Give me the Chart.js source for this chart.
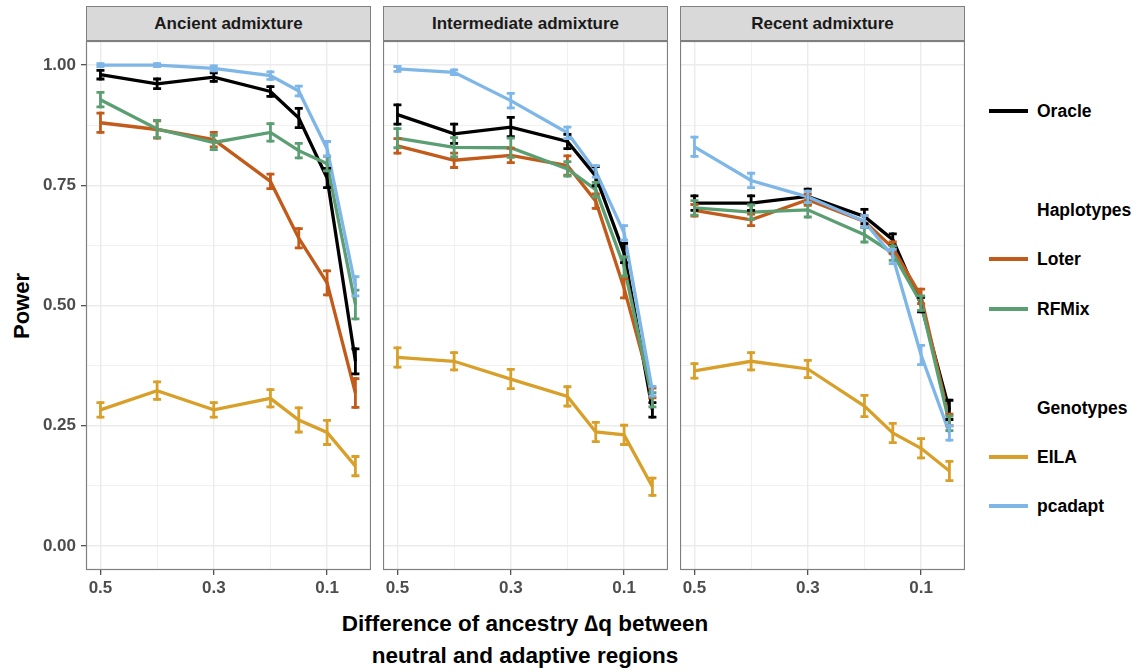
<!DOCTYPE html>
<html><head><meta charset="utf-8">
<script src="https://cdn.jsdelivr.net/npm/chart.js@4.4.0/dist/chart.umd.min.js"></script>
<style>
html,body{margin:0;padding:0;background:#fff;}
#root{position:relative;width:1146px;height:672px;overflow:hidden;font-family:"Liberation Sans",Arial,Helvetica,sans-serif;}
.strip{position:absolute;top:6px;height:35px;width:285px;box-sizing:border-box;background:#d9d9d9;border:1px solid #7f7f7f;
  color:#1a1a1a;font-weight:bold;font-size:17px;text-align:center;line-height:33px;}
canvas{position:absolute;}
.leg-line{position:absolute;left:989px;width:39px;height:3.5px;}
.leg-text{position:absolute;left:1037px;font-weight:bold;font-size:17.5px;color:#000;line-height:20px;white-space:nowrap;}
.title-x{position:absolute;left:0;width:1050px;text-align:center;font-weight:bold;font-size:22.5px;color:#000;white-space:nowrap;}
.title-y{position:absolute;left:22px;top:306px;font-weight:bold;font-size:22px;color:#000;transform:translate(-50%,-50%) rotate(-90deg);white-space:nowrap;}
</style>
</head><body>
<div id="root">
  <div class="title-y">Power</div>
  <div class="title-x" style="top:611px;">Difference of ancestry ∆q between</div>
  <div class="title-x" style="top:643px;">neutral and adaptive regions</div>
</div>
<script>
// ---------- data ----------
const deltaQ = [0.5, 0.4, 0.3, 0.2, 0.15, 0.1, 0.05];
const panelTitles = ["Ancient admixture", "Intermediate admixture", "Recent admixture"];
const methods = ["Oracle", "Loter", "RFMix", "EILA", "pcadapt"];
const methodColors = ["#000000", "#c25a1a", "#5b9e72", "#d8a02a", "#7eb6e8"];
const xMajorTicks = [0.5, 0.3, 0.1];
const xMinorTicks = [0.4, 0.2];
const yMajorTicks = [0, 0.25, 0.5, 0.75, 1];
const yMinorTicks = [0.125, 0.375, 0.625, 0.875];

// Ancient admixture
const oracleAncient  = [0.980, 0.961, 0.975, 0.945, 0.890, 0.765, 0.384];
const loterAncient   = [0.880, 0.866, 0.845, 0.758, 0.640, 0.547, 0.318];
const rfmixAncient   = [0.928, 0.867, 0.839, 0.860, 0.822, 0.795, 0.502];
const eilaAncient    = [0.283, 0.323, 0.283, 0.307, 0.262, 0.236, 0.166];
const pcadaptAncient = [1.000, 1.000, 0.993, 0.978, 0.946, 0.826, 0.540];
const oracleAncientErr  = [0.009, 0.010, 0.009, 0.010, 0.020, 0.020, 0.026];
const loterAncientErr   = [0.020, 0.018, 0.015, 0.015, 0.020, 0.025, 0.030];
const rfmixAncientErr   = [0.015, 0.018, 0.015, 0.018, 0.015, 0.015, 0.030];
const eilaAncientErr    = [0.015, 0.018, 0.015, 0.018, 0.025, 0.025, 0.020];
const pcadaptAncientErr = [0.003, 0.003, 0.005, 0.008, 0.010, 0.015, 0.020];

// Intermediate admixture
const oracleInter  = [0.897, 0.857, 0.871, 0.841, 0.769, 0.609, 0.283];
const loterInter   = [0.832, 0.802, 0.812, 0.791, 0.717, 0.536, 0.318];
const rfmixInter   = [0.848, 0.829, 0.828, 0.784, 0.741, 0.581, 0.304];
const eilaInter    = [0.392, 0.384, 0.347, 0.311, 0.237, 0.231, 0.123];
const pcadaptInter = [0.992, 0.985, 0.926, 0.859, 0.779, 0.651, 0.322];
const oracleInterErr  = [0.020, 0.020, 0.020, 0.015, 0.020, 0.020, 0.015];
const loterInterErr   = [0.015, 0.015, 0.015, 0.020, 0.015, 0.020, 0.010];
const rfmixInterErr   = [0.020, 0.020, 0.020, 0.015, 0.015, 0.020, 0.015];
const eilaInterErr    = [0.020, 0.018, 0.020, 0.020, 0.020, 0.020, 0.018];
const pcadaptInterErr = [0.005, 0.005, 0.015, 0.012, 0.012, 0.015, 0.010];

// Recent admixture
const oracleRecent  = [0.713, 0.713, 0.727, 0.685, 0.637, 0.502, 0.283];
const loterRecent   = [0.698, 0.678, 0.720, 0.675, 0.620, 0.519, 0.262];
const rfmixRecent   = [0.703, 0.694, 0.699, 0.647, 0.609, 0.505, 0.255];
const eilaRecent    = [0.364, 0.384, 0.368, 0.291, 0.235, 0.203, 0.156];
const pcadaptRecent = [0.830, 0.760, 0.726, 0.675, 0.602, 0.397, 0.235];
const oracleRecentErr  = [0.015, 0.015, 0.015, 0.015, 0.012, 0.015, 0.020];
const loterRecentErr   = [0.012, 0.012, 0.012, 0.012, 0.012, 0.015, 0.012];
const rfmixRecentErr   = [0.015, 0.015, 0.015, 0.015, 0.015, 0.015, 0.015];
const eilaRecentErr    = [0.015, 0.018, 0.018, 0.022, 0.020, 0.020, 0.020];
const pcadaptRecentErr = [0.020, 0.015, 0.012, 0.012, 0.015, 0.020, 0.015];

const panelValues = [
  [oracleAncient, loterAncient, rfmixAncient, eilaAncient, pcadaptAncient],
  [oracleInter, loterInter, rfmixInter, eilaInter, pcadaptInter],
  [oracleRecent, loterRecent, rfmixRecent, eilaRecent, pcadaptRecent]
];
const panelErrors = [
  [oracleAncientErr, loterAncientErr, rfmixAncientErr, eilaAncientErr, pcadaptAncientErr],
  [oracleInterErr, loterInterErr, rfmixInterErr, eilaInterErr, pcadaptInterErr],
  [oracleRecentErr, loterRecentErr, rfmixRecentErr, eilaRecentErr, pcadaptRecentErr]
];

// legend layout (method index or header)
const legendRows = [
  {type: "item", m: 0, y: 111},
  {type: "head", text: "Haplotypes", y: 210},
  {type: "item", m: 1, y: 259},
  {type: "item", m: 2, y: 309},
  {type: "head", text: "Genotypes", y: 408},
  {type: "item", m: 3, y: 457},
  {type: "item", m: 4, y: 506}
];

// ---------- layout ----------
const root = document.getElementById("root");
const panelLeft = [86, 383, 680];
const panelW = 285;
const plotTop = 41, plotBottom = 570, axisH = 30;

const near = (a, b) => Math.abs(a - b) < 1e-6;
const isIn = (arr, v) => arr.some(t => near(t, v));
const FONT = "'Liberation Sans', Arial, Helvetica, sans-serif";

const errorBarPlugin = {
  id: "errbars",
  afterDatasetsDraw(chart) {
    const c = chart.ctx, xs = chart.scales.x, ys = chart.scales.y, a = chart.chartArea;
    c.save();
    c.beginPath(); c.rect(a.left, a.top, a.right - a.left, a.bottom - a.top); c.clip();
    c.lineCap = "butt";
    chart.data.datasets.forEach(ds => {
      c.strokeStyle = ds.borderColor;
      c.lineWidth = 2.8;
      ds.data.forEach((p, i) => {
        const e = ds.errors[i];
        const x = xs.getPixelForValue(p.x);
        const y1 = ys.getPixelForValue(p.y - e), y2 = ys.getPixelForValue(p.y + e);
        c.beginPath();
        c.moveTo(x, y1 + 1.4); c.lineTo(x, y2 - 1.4);
        c.stroke();
        c.beginPath();
        c.moveTo(x - 4, y1); c.lineTo(x + 4, y1);
        c.moveTo(x - 4, y2); c.lineTo(x + 4, y2);
        c.stroke();
      });
    });
    c.restore();
    // panel border
    c.save();
    c.strokeStyle = "#7f7f7f"; c.lineWidth = 1.2;
    c.strokeRect(a.left + 0.5, a.top + 0.5, a.right - a.left - 1, a.bottom - a.top - 1);
    c.restore();
  }
};

panelTitles.forEach((title, k) => {
  const strip = document.createElement("div");
  strip.className = "strip";
  strip.style.left = panelLeft[k] + "px";
  strip.textContent = title;
  root.appendChild(strip);

  const yAxisW = k === 0 ? panelLeft[0] : 0;
  const cv = document.createElement("canvas");
  const W = panelW + yAxisW, H = plotBottom - plotTop + axisH;
  cv.width = W; cv.height = H;
  cv.style.width = W + "px"; cv.style.height = H + "px";
  cv.style.left = (panelLeft[k] - yAxisW) + "px";
  cv.style.top = plotTop + "px";
  root.appendChild(cv);

  // draw order: lower "order" ends on top, so pcadapt is drawn last
  const datasets = methods.map((m, j) => ({
    label: m,
    data: deltaQ.map((x, i) => ({x: x, y: panelValues[k][j][i]})),
    errors: panelErrors[k][j],
    borderColor: methodColors[j],
    backgroundColor: methodColors[j],
    borderWidth: 3.3,
    pointRadius: 0,
    tension: 0,
    order: methods.length - j
  }));

  new Chart(cv, {
    type: "line",
    data: {datasets},
    plugins: [errorBarPlugin],
    options: {
      responsive: false,
      animation: false,
      devicePixelRatio: 1,
      layout: {padding: 0},
      plugins: {legend: {display: false}, tooltip: {enabled: false}, title: {display: false}},
      scales: {
        x: {
          type: "linear", reverse: true, min: 0.0225, max: 0.5255,
          afterBuildTicks: s => { s.ticks = xMajorTicks.concat(xMinorTicks).sort((a, b) => b - a).map(v => ({value: v})); },
          afterFit: s => { s.height = axisH; s.paddingLeft = 0; s.paddingRight = 0; },
          border: {display: false},
          grid: {
            color: "#ebebeb",
            lineWidth: ctx => isIn(xMajorTicks, ctx.tick.value) ? 1.4 : 0.7,
            drawTicks: true, tickLength: 5, tickWidth: 1.1,
            tickColor: ctx => isIn(xMajorTicks, ctx.tick.value) ? "#333333" : "rgba(0,0,0,0)"
          },
          ticks: {
            autoSkip: false, maxRotation: 0, minRotation: 0, padding: 3,
            color: "#4d4d4d", font: {family: FONT, size: 17, weight: "bold"},
            callback: v => isIn(xMajorTicks, v) ? v.toFixed(1) : ""
          }
        },
        y: {
          type: "linear", min: -0.05, max: 1.05,
          afterBuildTicks: s => { s.ticks = yMajorTicks.concat(yMinorTicks).sort((a, b) => a - b).map(v => ({value: v})); },
          afterFit: s => { s.width = yAxisW; s.paddingTop = 0; s.paddingBottom = 0; },
          border: {display: false},
          grid: {
            color: "#ebebeb",
            lineWidth: ctx => isIn(yMajorTicks, ctx.tick.value) ? 1.4 : 0.7,
            drawTicks: k === 0, tickLength: 5, tickWidth: 1.1,
            tickColor: ctx => isIn(yMajorTicks, ctx.tick.value) ? "#333333" : "rgba(0,0,0,0)"
          },
          ticks: {
            display: k === 0, autoSkip: false, padding: 5,
            color: "#4d4d4d", font: {family: FONT, size: 17, weight: "bold"},
            callback: v => isIn(yMajorTicks, v) ? v.toFixed(2) : ""
          }
        }
      }
    }
  });
});

// legend
legendRows.forEach(r => {
  if (r.type === "item") {
    const ln = document.createElement("div");
    ln.className = "leg-line";
    ln.style.top = (r.y - 1.75) + "px";
    ln.style.background = methodColors[r.m];
    root.appendChild(ln);
  }
  const t = document.createElement("div");
  t.className = "leg-text";
  t.style.top = (r.y - 10) + "px";
  t.textContent = r.type === "item" ? methods[r.m] : r.text;
  root.appendChild(t);
});
</script>
</body></html>
